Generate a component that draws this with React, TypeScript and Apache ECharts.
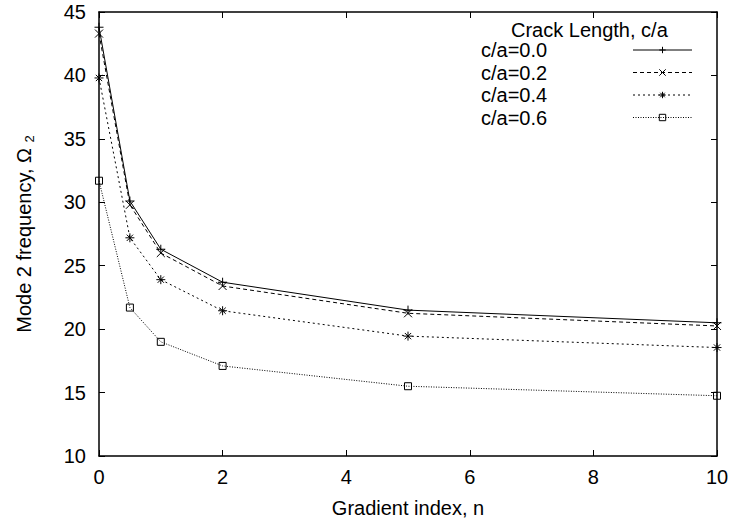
import React, { useEffect, useRef } from "react";
import * as echarts from "echarts";

const FONT = "'Liberation Sans', Arial, Helvetica, sans-serif";

const gradientIndex = [0, 0.5, 1, 2, 5, 10];
const seriesNames = ["c/a=0.0", "c/a=0.2", "c/a=0.4", "c/a=0.6"];
const ca00 = [43.8, 30.1, 26.3, 23.7, 21.5, 20.5];
const ca02 = [43.3, 29.8, 26.0, 23.4, 21.25, 20.25];
const ca04 = [39.8, 27.2, 23.9, 21.45, 19.45, 18.55];
const ca06 = [31.7, 21.7, 19.0, 17.1, 15.5, 14.75];
const seriesValues = [ca00, ca02, ca04, ca06];

const legendTitle = "Crack Length, c/a";
const xName = "Gradient index, n";

const symbols = [
  "path://M5,0L5,10M0,5L10,5",
  "path://M0,0L10,10M10,0L0,10",
  "path://M5,0L5,10M0,5L10,5M1.5,1.5L8.5,8.5M8.5,1.5L1.5,8.5",
  "rect",
];
const symbolSizes = [9, 8, 9, 7];
const lineTypes: any[] = ["solid", [4, 3], [2, 3], [1, 1.5]];

export default function App() {
  const ref = useRef<HTMLDivElement>(null);
  useEffect(() => {
    if (!ref.current) return;
    const chart = echarts.init(ref.current, undefined, { renderer: "svg" });
    const axisCommon = {
      axisLine: { show: true, onZero: false, lineStyle: { color: "#000", width: 1.5 } },
      axisTick: { show: true, inside: true, length: 6, lineStyle: { color: "#000", width: 1 } },
      splitLine: { show: false },
    };
    chart.setOption({
      animation: false,
      backgroundColor: "#fff",
      textStyle: { fontFamily: FONT },
      grid: { left: 99, right: 18, top: 12, bottom: 73, containLabel: false },
      title: {
        text: legendTitle,
        left: 511,
        top: 20,
        padding: 0,
        textStyle: { fontSize: 20, fontWeight: "normal", color: "#000", fontFamily: FONT },
      },
      legend: {
        orient: "vertical",
        left: 481,
        top: 40,
        padding: 0,
        align: "right",
        itemWidth: 59,
        itemHeight: 8,
        itemGap: 2.5,
        data: seriesNames,
        lineStyle: { width: 1 },
        itemStyle: { borderWidth: 1 },
        formatter: (name: string) => `{a|${name}}`,
        textStyle: {
          fontSize: 20,
          color: "#000",
          fontFamily: FONT,
          rich: { a: { width: 147, align: "left", fontSize: 20, color: "#000", fontFamily: FONT } },
        },
      },
      xAxis: [
        {
          type: "value",
          min: 0,
          max: 10,
          interval: 2,
          position: "bottom",
          name: xName,
          nameLocation: "middle",
          nameGap: 42,
          nameTextStyle: { fontSize: 20, color: "#000", fontFamily: FONT },
          axisLabel: { fontSize: 20, color: "#000", margin: 11, fontFamily: FONT },
          ...axisCommon,
        },
        {
          type: "value",
          min: 0,
          max: 10,
          interval: 2,
          position: "top",
          axisLabel: { show: false },
          ...axisCommon,
        },
      ],
      yAxis: [
        {
          type: "value",
          min: 10,
          max: 45,
          interval: 5,
          position: "left",
          name: "Mode 2 frequency, Ω {sub|2}",
          nameLocation: "middle",
          nameGap: 63,
          nameTextStyle: {
            fontSize: 20,
            color: "#000",
            fontFamily: FONT,
            rich: { sub: { fontSize: 13, padding: [12, 0, 0, 0], color: "#000", fontFamily: FONT } },
          },
          axisLabel: { fontSize: 20, color: "#000", margin: 13, fontFamily: FONT },
          ...axisCommon,
        },
        {
          type: "value",
          min: 10,
          max: 45,
          interval: 5,
          position: "right",
          axisLabel: { show: false },
          ...axisCommon,
        },
      ],
      series: seriesNames.map((name, i) => ({
        name,
        type: "line",
        xAxisIndex: 0,
        yAxisIndex: 0,
        data: gradientIndex.map((x, j) => [x, seriesValues[i][j]]),
        symbol: symbols[i],
        symbolSize: symbolSizes[i],
        showAllSymbol: true,
        clip: false,
        lineStyle: { color: "#000", width: 1, type: lineTypes[i] },
        itemStyle: { color: "rgba(0,0,0,0)", borderColor: "#000", borderWidth: 1 },
        emphasis: { disabled: true },
      })),
    });
    return () => chart.dispose();
  }, []);
  return (
    <div
      ref={ref}
      style={{ position: "absolute", left: 0, top: 0, width: 735, height: 529, background: "#fff" }}
    />
  );
}
